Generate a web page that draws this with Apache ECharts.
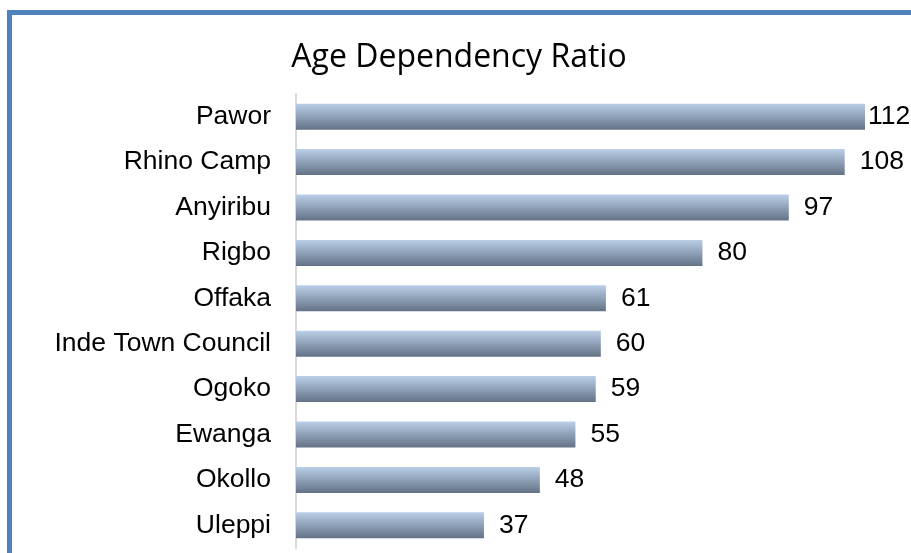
<!DOCTYPE html>
<html>
<head>
<meta charset="utf-8">
<script src="https://cdn.jsdelivr.net/npm/echarts@6/dist/echarts.min.js"></script>
<style>html,body{margin:0;padding:0;background:#fff;}#chart{width:911px;height:553px;}</style>
</head>
<body>
<div id="chart"></div>
<script>
const categories = ["Pawor","Rhino Camp","Anyiribu","Rigbo","Offaka","Inde Town Council","Ogoko","Ewanga","Okollo","Uleppi"];
const values = [112,108,97,80,61,60,59,55,48,37];
const titleText = "Age Dependency Ratio";

const chart = echarts.init(document.getElementById('chart'), null, {renderer:'canvas'});
const barColor = new echarts.graphic.LinearGradient(0,0,0,1,[
  {offset:0,color:'#bacfe8'},
  {offset:1,color:'#637286'}
]);
chart.setOption({
  animation:false,
  backgroundColor:'#ffffff',
  graphic:[
    {type:'rect',shape:{x:7,y:10,width:904,height:5},style:{fill:'#4f81bd'},silent:true},
    {type:'rect',shape:{x:7,y:10,width:5,height:543},style:{fill:'#4f81bd'},silent:true},
    {type:'text',x:459,y:58,style:{text:titleText,fontFamily:'Open Sans',fontSize:32,fill:'#000',align:'center',verticalAlign:'middle'}}
  ],
  grid:{left:296,top:94,width:569,height:454,containLabel:false},
  xAxis:{type:'value',min:0,max:112,show:false,splitLine:{show:false}},
  yAxis:{
    type:'category',data:categories,inverse:true,
    axisLine:{show:true,lineStyle:{color:'#d9d9d9',width:2}},
    axisTick:{show:false},
    axisLabel:{margin:25,color:'#000',fontFamily:'Liberation Sans',fontSize:26.5}
  },
  series:[{
    type:'bar',
    data:values.map((v,i)=>({value:v,label:{distance:i===0?3:15}})),
    barWidth:26,
    itemStyle:{color:barColor},
    label:{show:true,position:'right',color:'#000',fontFamily:'Liberation Sans',fontSize:26.5}
  }]
});
</script>
</body>
</html>
